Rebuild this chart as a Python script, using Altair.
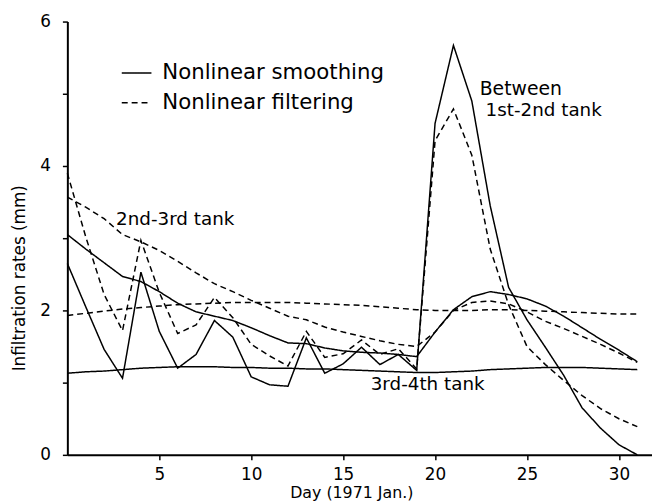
import altair as alt
import pandas as pd

days = list(range(32))

# Between 1st-2nd tank
t12_smooth = [2.65, 2.05, 1.46, 1.06, 2.53, 1.71, 1.20, 1.39, 1.86, 1.63, 1.08, 0.97, 0.95, 1.62, 1.13, 1.26,
              1.49, 1.25, 1.39, 1.17, 4.59, 5.67, 4.90, 3.45, 2.32, 1.87, 1.49, 1.10, 0.65, 0.37, 0.14, 0.00]
t12_filter = [3.90, 3.02, 2.22, 1.72, 2.97, 2.25, 1.68, 1.80, 2.18, 1.90, 1.53, 1.37, 1.23, 1.71, 1.35, 1.40,
              1.59, 1.39, 1.47, 1.19, 4.35, 4.79, 4.15, 2.85, 2.08, 1.50, 1.25, 1.03, 0.82, 0.64, 0.50, 0.39]
# 2nd-3rd tank
t23_smooth = [3.05, 2.85, 2.66, 2.47, 2.40, 2.26, 2.10, 1.98, 1.92, 1.86, 1.76, 1.65, 1.55, 1.54, 1.48, 1.44,
              1.42, 1.41, 1.39, 1.36, 1.70, 2.01, 2.19, 2.26, 2.22, 2.16, 2.06, 1.92, 1.76, 1.60, 1.45, 1.29]
t23_filter = [3.57, 3.43, 3.27, 3.05, 2.95, 2.83, 2.68, 2.52, 2.37, 2.26, 2.14, 2.03, 1.92, 1.87, 1.77, 1.70,
              1.64, 1.58, 1.53, 1.50, 1.70, 2.00, 2.11, 2.13, 2.09, 1.98, 1.85, 1.75, 1.64, 1.53, 1.41, 1.28]
# 3rd-4th tank
t34_smooth = [1.13, 1.15, 1.16, 1.18, 1.20, 1.21, 1.22, 1.22, 1.22, 1.21, 1.21, 1.20, 1.20, 1.19, 1.19, 1.18,
              1.17, 1.16, 1.15, 1.14, 1.14, 1.15, 1.16, 1.18, 1.19, 1.20, 1.21, 1.21, 1.21, 1.20, 1.19, 1.18]
t34_filter = [1.93, 1.96, 1.99, 2.02, 2.04, 2.06, 2.08, 2.09, 2.10, 2.11, 2.11, 2.11, 2.11, 2.10, 2.09, 2.08,
              2.07, 2.05, 2.03, 2.01, 2.00, 2.00, 2.00, 2.01, 2.01, 2.00, 1.99, 1.98, 1.97, 1.96, 1.95, 1.95]

methods = ["Nonlinear smoothing", "Nonlinear filtering"]
x_ticks = [5, 10, 15, 20, 25, 30]
y_ticks = [0, 1, 2, 3, 4, 5, 6]

note_texts = ["2nd-3rd tank", "Between", "1st-2nd tank", "3rd-4th tank"]
note_days = [2.65, 22.43, 22.75, 16.5]
note_values = [3.27, 5.06, 4.78, 0.98]

series = [
    ("1st-2nd", methods[0], t12_smooth),
    ("1st-2nd", methods[1], t12_filter),
    ("2nd-3rd", methods[0], t23_smooth),
    ("2nd-3rd", methods[1], t23_filter),
    ("3rd-4th", methods[0], t34_smooth),
    ("3rd-4th", methods[1], t34_filter),
]
rows = []
for tank, method, vals in series:
    for d, v in zip(days, vals):
        rows.append({"day": d, "value": v, "series": tank + " " + method, "method": method})
df = pd.DataFrame(rows)

FONT = "DejaVu Sans"

x_enc = alt.X(
    "day:Q",
    scale=alt.Scale(domain=[0, 31.8], nice=False, zero=False),
    axis=alt.Axis(values=x_ticks, title="Day (1971 Jan.)", titleX=287, titleY=38,
                  titleAlign="center", titleBaseline="middle", labelPadding=7,
                  titleFontSize=16),
)
y_enc = alt.Y(
    "value:Q",
    scale=alt.Scale(domain=[0, 6], nice=False),
    axis=alt.Axis(values=y_ticks, format="d",
                  labelExpr="datum.value % 2 == 0 ? datum.label : ''",
                  title="Infiltration rates (mm)", titleX=-48, titleY=259, titleAngle=270,
                  titleAlign="center", titleBaseline="middle", labelPadding=12,
                  titleFontSize=17),
)

lines = alt.Chart(df).mark_line(color="black", strokeWidth=1.5).encode(
    x=x_enc,
    y=y_enc,
    detail="series:N",
    strokeDash=alt.StrokeDash(
        "method:N",
        scale=alt.Scale(domain=methods, range=[[1, 0], [6, 4]]),
        legend=alt.Legend(
            orient="none", legendX=54, legendY=36, title=None, padding=0,
            symbolType="stroke", symbolSize=900, symbolStrokeWidth=1.5,
            symbolStrokeColor="black", labelFont=FONT, labelFontSize=21.5,
            labelColor="black", labelOffset=10, rowPadding=3, labelLimit=400,
        ),
    ),
)

notes = []
for txt, d, v in zip(note_texts, note_days, note_values):
    size = 19 if txt == "Between" else 18.5
    notes.append(
        alt.Chart(pd.DataFrame({"day": [d], "value": [v], "label": [txt]})).mark_text(
            align="left", baseline="middle", font=FONT, fontSize=size, color="black"
        ).encode(x="day:Q", y="value:Q", text="label:N")
    )

chart = alt.layer(lines, *notes).properties(
    width=591, height=438,
    autosize="none",
    padding={"left": 60, "top": 11, "right": 0, "bottom": 49},
).configure_view(stroke=None).configure_axis(
    grid=False, domainColor="black", domainWidth=2, tickColor="black", tickSize=5,
    tickWidth=1.5, labelFont=FONT, labelFontSize=17, labelColor="black",
    titleFont=FONT, titleFontSize=16, titleFontWeight="normal", titleColor="black",
)

chart.save("out.html", embed_options={"renderer": "svg", "actions": False})
